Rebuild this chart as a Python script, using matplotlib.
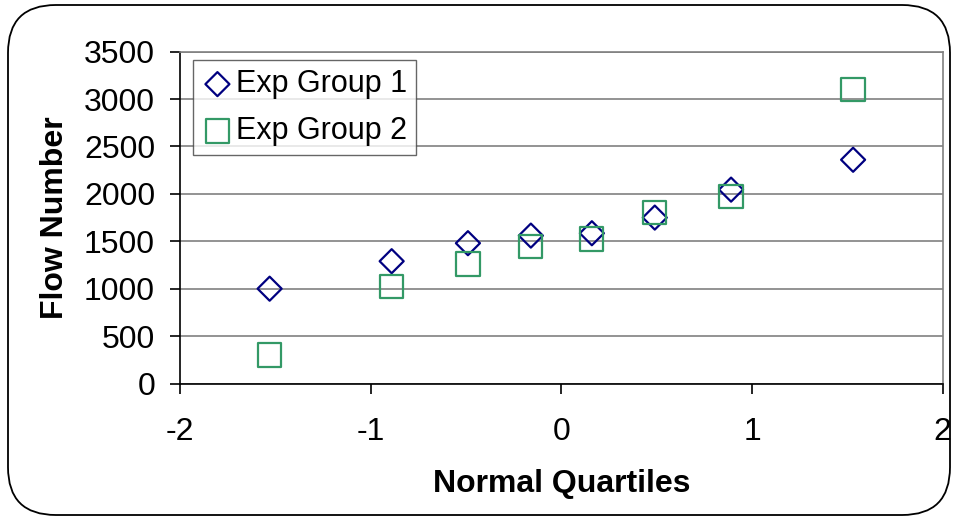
import matplotlib
matplotlib.use("Agg")
import matplotlib.pyplot as plt
from matplotlib.patches import FancyBboxPatch

plt.rcParams['font.family'] = ['Liberation Sans', 'DejaVu Sans']

quantiles = [-1.53, -0.89, -0.49, -0.16, 0.16, 0.49, 0.89, 1.53]
group1 = [1000, 1290, 1480, 1560, 1585, 1750, 2045, 2360]
group2 = [300, 1025, 1260, 1445, 1525, 1805, 1970, 3105]
labels = ["Exp Group 1", "Exp Group 2"]
xticks = [-2, -1, 0, 1, 2]
yticks = [0, 500, 1000, 1500, 2000, 2500, 3000, 3500]

fig = plt.figure(figsize=(9.56, 5.2), dpi=100)
border = FancyBboxPatch((8/956, 5/520), 942/956, 510/520,
                        boxstyle="round,pad=0,rounding_size=0.05",
                        transform=fig.transFigure, fill=False,
                        edgecolor='black', linewidth=1.3,
                        mutation_aspect=956/520)
fig.patches.append(border)

ax = fig.add_axes([0.1883, 0.2625, 0.9861 - 0.1883, 0.9006 - 0.2625])
ax.scatter(quantiles, group1, marker='D', s=150, facecolors='none',
           edgecolors='#000080', linewidths=1.6, label=labels[0], zorder=3)
ax.scatter(quantiles, group2, marker='s', s=280, facecolors='none',
           edgecolors='#339966', linewidths=1.6, label=labels[1], zorder=3)

ax.set_xlim(-2, 2)
ax.set_ylim(0, 3500)
ax.set_xticks(xticks)
ax.set_yticks(yticks)
ax.set_xticklabels([str(t) for t in xticks])
ax.set_yticklabels([str(t) for t in yticks])
ax.yaxis.grid(True, color='#808080', linewidth=1.2)
ax.set_axisbelow(True)
for s in ['top', 'right']:
    ax.spines[s].set_color('#808080')
    ax.spines[s].set_linewidth(1.2)
for s in ['left', 'bottom']:
    ax.spines[s].set_color('black')
    ax.spines[s].set_linewidth(1.2)
ax.tick_params(axis='both', direction='out', length=7, width=1.2, labelsize=23)
ax.tick_params(axis='x', pad=17)
ax.tick_params(axis='y', pad=11)

ax.set_xlabel("Normal Quartiles", fontsize=23, fontweight='bold', labelpad=16)
ax.set_ylabel("Flow Number", fontsize=23, fontweight='bold', labelpad=10)

leg = ax.legend(loc='upper left', bbox_to_anchor=(0.017, 0.975), borderaxespad=0,
                fontsize=22, frameon=True, fancybox=False, edgecolor='#404040',
                handletextpad=0.1, handlelength=1.0, labelspacing=0.55,
                borderpad=0.3, scatterpoints=1)
leg.get_frame().set_linewidth(1.0)

fig.savefig("out.png", dpi=100)
